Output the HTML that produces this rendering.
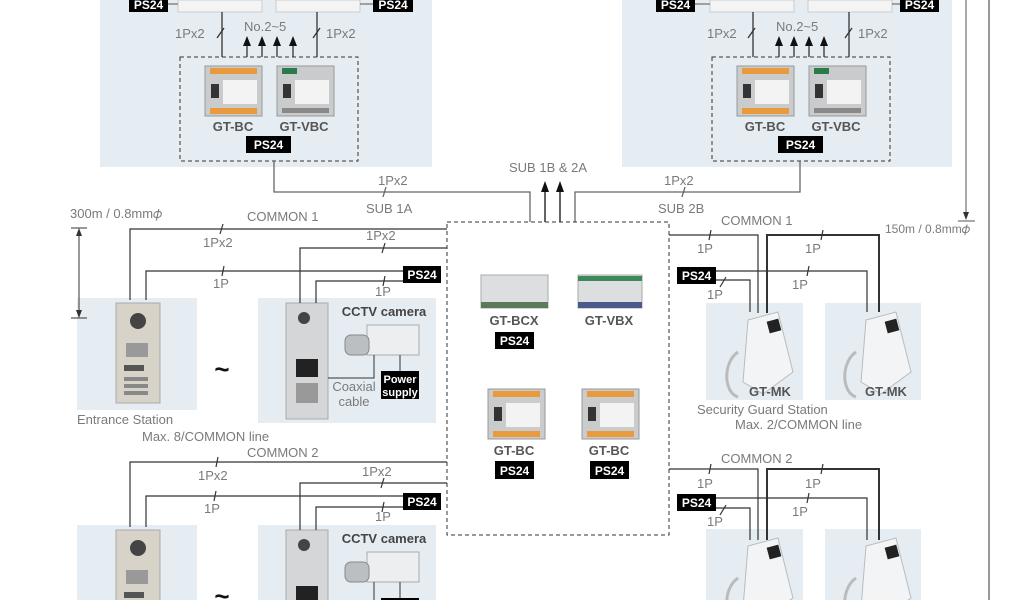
<!DOCTYPE html>
<html><head><meta charset="utf-8"><style>
html,body{margin:0;padding:0;background:#fff;width:1024px;height:600px;overflow:hidden;}
svg{display:block;}
text{font-family:"Liberation Sans",sans-serif;}
.l{font-size:13px;fill:#7a7a7a;}
.m{font-size:13px;font-weight:bold;fill:#555;}
.ps{font-size:12px;font-weight:bold;fill:#fff;}
</style></head><body>
<svg width="1024" height="600" viewBox="0 0 1024 600" xmlns="http://www.w3.org/2000/svg">
<defs>
<g id="bc">
 <rect x="0" y="0" width="57" height="50" fill="#c9cbcc" stroke="#999"/>
 <rect x="5" y="2" width="47" height="6" fill="#e99a3c"/>
 <rect x="5" y="42" width="47" height="6" fill="#e99a3c"/>
 <rect x="18" y="14" width="34" height="24" fill="#f3f3f3"/>
 <rect x="6" y="18" width="8" height="14" fill="#333"/>
</g>
<g id="vbc">
 <rect x="0" y="0" width="57" height="50" fill="#c9cbcc" stroke="#999"/>
 <rect x="5" y="2" width="15" height="6" fill="#2a7a4a"/>
 <rect x="18" y="14" width="34" height="24" fill="#f3f3f3"/>
 <rect x="6" y="18" width="8" height="14" fill="#333"/>
 <rect x="5" y="42" width="47" height="5" fill="#888"/>
</g>
<g id="phone">
 <path d="M30,8 L60,0 L75,60 L45,82 L25,70 Z" fill="#f2f4f5" stroke="#bbb"/>
 <rect x="50" y="8" width="12" height="12" fill="#222" transform="rotate(-15 56 14)"/>
 <path d="M20,40 C5,50 5,80 20,85" fill="none" stroke="#bbb" stroke-width="3"/>
</g>
<g id="ent">
 <rect x="0" y="0" width="44" height="100" fill="#d8d3c8" stroke="#aaa"/>
 <circle cx="22" cy="18" r="8" fill="#444"/>
 <rect x="10" y="40" width="22" height="14" fill="#999"/>
 <rect x="8" y="62" width="20" height="6" fill="#555"/>
 <rect x="8" y="74" width="24" height="4" fill="#888"/>
 <rect x="8" y="81" width="24" height="4" fill="#888"/>
 <rect x="8" y="88" width="24" height="4" fill="#888"/>
</g>
<g id="ent2">
 <rect x="0" y="0" width="42" height="116" fill="#d4d6d8" stroke="#aaa"/>
 <circle cx="18" cy="15" r="6" fill="#444"/>
 <rect x="10" y="56" width="22" height="18" fill="#222"/>
 <rect x="10" y="80" width="22" height="20" fill="#999"/>
</g>
<g id="cam">
 <rect x="22" y="0" width="52" height="30" fill="#eceeef" stroke="#aaa"/>
 <rect x="0" y="10" width="24" height="20" rx="6" fill="#bcbfc2" stroke="#888"/>
</g>
</defs>

<rect x="100" y="0" width="332" height="167" fill="#e6edf2"/>
<rect x="622" y="0" width="330" height="167" fill="#e6edf2"/>

<!-- top left -->
<rect x="178" y="0" width="84" height="12" fill="#f4f4f4" stroke="#ccc"/>
<rect x="276" y="0" width="84" height="12" fill="#f4f4f4" stroke="#ccc"/>
<rect x="129" y="-4" width="39" height="16" fill="#000"/><text class="ps" x="148.5" y="9" text-anchor="middle">PS24</text>
<rect x="373" y="-4" width="40" height="16" fill="#000"/><text class="ps" x="393" y="9" text-anchor="middle">PS24</text>
<line x1="168" y1="4" x2="178" y2="4" stroke="#555"/>
<line x1="360" y1="4" x2="373" y2="4" stroke="#555"/>
<g stroke="#333" stroke-width="1.3">
 <line x1="222" y1="12" x2="222" y2="57"/><line x1="317" y1="12" x2="317" y2="57"/>
 <line x1="217" y1="38" x2="224" y2="28"/><line x1="313" y1="38" x2="320" y2="28"/>
 <line x1="247" y1="57" x2="247" y2="44"/><line x1="262" y1="57" x2="262" y2="44"/>
 <line x1="277" y1="57" x2="277" y2="44"/><line x1="293" y1="57" x2="293" y2="44"/>
</g>
<g fill="#111">
 <polygon points="243,46 247,36 251,46"/><polygon points="258,46 262,36 266,46"/>
 <polygon points="273,46 277,36 281,46"/><polygon points="289,46 293,36 297,46"/>
</g>
<text class="l" x="175" y="38">1Px2</text><text class="l" x="326" y="38">1Px2</text>
<text class="l" x="244" y="31">No.2~5</text>
<rect x="180" y="57" width="178" height="104" fill="none" stroke="#333" stroke-dasharray="4,3"/>
<use href="#bc" x="205" y="66"/><use href="#vbc" x="277" y="66"/>
<text class="m" x="233" y="131" text-anchor="middle">GT-BC</text>
<text class="m" x="304" y="131" text-anchor="middle">GT-VBC</text>
<rect x="246" y="136" width="45" height="17" fill="#000"/><text class="ps" x="268.5" y="149" text-anchor="middle">PS24</text>

<!-- top right -->
<rect x="710" y="0" width="84" height="12" fill="#f4f4f4" stroke="#ccc"/>
<rect x="808" y="0" width="84" height="12" fill="#f4f4f4" stroke="#ccc"/>
<rect x="656" y="-4" width="39" height="16" fill="#000"/><text class="ps" x="675.5" y="9" text-anchor="middle">PS24</text>
<rect x="900" y="-4" width="39" height="16" fill="#000"/><text class="ps" x="919.5" y="9" text-anchor="middle">PS24</text>
<line x1="695" y1="4" x2="710" y2="4" stroke="#555"/>
<line x1="892" y1="4" x2="900" y2="4" stroke="#555"/>
<g stroke="#333" stroke-width="1.3">
 <line x1="753" y1="12" x2="753" y2="57"/><line x1="849" y1="12" x2="849" y2="57"/>
 <line x1="748" y1="38" x2="755" y2="28"/><line x1="845" y1="38" x2="852" y2="28"/>
 <line x1="779" y1="57" x2="779" y2="44"/><line x1="794" y1="57" x2="794" y2="44"/>
 <line x1="809" y1="57" x2="809" y2="44"/><line x1="824" y1="57" x2="824" y2="44"/>
</g>
<g fill="#111">
 <polygon points="775,46 779,36 783,46"/><polygon points="790,46 794,36 798,46"/>
 <polygon points="805,46 809,36 813,46"/><polygon points="820,46 824,36 828,46"/>
</g>
<text class="l" x="707" y="38">1Px2</text><text class="l" x="858" y="38">1Px2</text>
<text class="l" x="776" y="31">No.2~5</text>
<rect x="712" y="57" width="178" height="104" fill="none" stroke="#333" stroke-dasharray="4,3"/>
<use href="#bc" x="737" y="66"/><use href="#vbc" x="809" y="66"/>
<text class="m" x="765" y="131" text-anchor="middle">GT-BC</text>
<text class="m" x="836" y="131" text-anchor="middle">GT-VBC</text>
<rect x="778" y="136" width="45" height="17" fill="#000"/><text class="ps" x="800.5" y="149" text-anchor="middle">PS24</text>

<!-- SUB lines -->
<g stroke="#666" stroke-width="1.3" fill="none">
 <polyline points="274,161 274,192 530,192 530,222"/>
 <polyline points="800,161 800,192 575,192 575,222"/>
 <line x1="383" y1="197" x2="386" y2="187"/>
 <line x1="682" y1="197" x2="685" y2="187"/>
</g>
<g stroke="#111" stroke-width="1.3">
 <line x1="545" y1="222" x2="545" y2="190"/>
 <line x1="560" y1="222" x2="560" y2="190"/>
</g>
<g fill="#111"><polygon points="541,192 545,181 549,192"/><polygon points="556,192 560,181 564,192"/></g>
<text class="l" x="378" y="185">1Px2</text><text class="l" x="366" y="213">SUB 1A</text>
<text class="l" x="509" y="172">SUB 1B &amp; 2A</text>
<text class="l" x="664" y="185">1Px2</text><text class="l" x="658" y="213">SUB 2B</text>

<!-- right distance lines -->
<line x1="989" y1="0" x2="989" y2="600" stroke="#777" stroke-width="1.5"/>
<line x1="966" y1="0" x2="966" y2="214" stroke="#555"/>
<polygon points="963,212 966,220 969,212" fill="#333"/>
<line x1="958" y1="221" x2="975" y2="221" stroke="#555"/>
<text class="l" x="885" y="233" style="font-size:12px">150m / 0.8mm𝜙</text>

<!-- center -->
<rect x="447" y="222" width="222" height="313" fill="none" stroke="#333" stroke-dasharray="4,3"/>
<rect x="481" y="275" width="67" height="33" fill="#dcdedf" stroke="#aaa"/>
<rect x="481" y="302" width="67" height="6" fill="#5a7a5a"/>
<rect x="578" y="275" width="64" height="33" fill="#dcdedf" stroke="#aaa"/>
<rect x="578" y="276" width="64" height="5" fill="#3a8a5a"/>
<rect x="578" y="302" width="64" height="6" fill="#4a5a8a"/>
<text class="m" x="514" y="325" text-anchor="middle">GT-BCX</text>
<text class="m" x="609" y="325" text-anchor="middle">GT-VBX</text>
<rect x="495" y="332" width="39" height="17" fill="#000"/><text class="ps" x="514.5" y="345" text-anchor="middle">PS24</text>
<use href="#bc" x="488" y="389"/><use href="#bc" x="582" y="389"/>
<text class="m" x="514" y="455" text-anchor="middle">GT-BC</text>
<text class="m" x="609" y="455" text-anchor="middle">GT-BC</text>
<rect x="495" y="461" width="39" height="18" fill="#000"/><text class="ps" x="514.5" y="475" text-anchor="middle">PS24</text>
<rect x="590" y="461" width="39" height="18" fill="#000"/><text class="ps" x="609.5" y="475" text-anchor="middle">PS24</text>

<!-- left groups -->
<g id="leftgrp">
<rect x="77" y="298" width="120" height="112" fill="#e6edf2"/>
<rect x="258" y="298" width="178" height="125" fill="#e6edf2"/>
<use href="#ent" x="116" y="303"/>
<use href="#ent2" x="286" y="303"/>
<use href="#cam" x="345" y="325"/>
<text x="222" y="378" style="font-size:26px;font-weight:bold;fill:#111" text-anchor="middle">~</text>
<text x="384" y="316" class="m" style="fill:#444" text-anchor="middle">CCTV camera</text>
<polyline points="328,378 374,378 374,355" fill="none" stroke="#333"/>
<line x1="400" y1="355" x2="400" y2="371" stroke="#333"/>
<rect x="381" y="371" width="38" height="28" fill="#000"/>
<text class="ps" x="400" y="383" text-anchor="middle" style="font-size:11px">Power</text>
<text class="ps" x="400" y="396" text-anchor="middle" style="font-size:11px">supply</text>
<text class="l" x="354" y="391" text-anchor="middle">Coaxial</text>
<text class="l" x="354" y="406" text-anchor="middle">cable</text>
</g>

<!-- left distance (drawn over panel) -->
<line x1="79" y1="232" x2="79" y2="314" stroke="#333"/>
<polygon points="76,236 79,228 82,236" fill="#333"/>
<polygon points="76,310 79,318 82,310" fill="#333"/>
<line x1="71" y1="228" x2="87" y2="228" stroke="#333"/>
<line x1="71" y1="318" x2="87" y2="318" stroke="#333"/>
<text class="l" x="70" y="218">300m / 0.8mm𝜙</text>

<g stroke="#333" stroke-width="1.2" fill="none">
 <polyline points="447,229 130,229 130,300"/>
 <polyline points="447,248 300,248 300,303"/>
 <polyline points="403,271 146,271 146,300"/>
 <polyline points="403,281 316,281 316,303"/>
 <line x1="220" y1="234" x2="223" y2="224"/>
 <line x1="382" y1="253" x2="385" y2="243"/>
 <line x1="222" y1="276" x2="224" y2="266"/>
 <line x1="383" y1="286" x2="385" y2="276"/>
</g>
<rect x="403" y="266" width="38" height="17" fill="#000"/><text class="ps" x="422" y="279" text-anchor="middle">PS24</text>
<text class="l" x="247" y="221">COMMON 1</text>
<text class="l" x="203" y="247">1Px2</text><text class="l" x="366" y="240">1Px2</text>
<text class="l" x="213" y="288">1P</text><text class="l" x="375" y="296">1P</text>
<text class="l" x="77" y="424">Entrance Station</text>
<text class="l" x="142" y="441">Max. 8/COMMON line</text>
<text class="l" x="247" y="457">COMMON 2</text>

<use href="#leftgrp" x="0" y="227"/>
<g stroke="#333" stroke-width="1.2" fill="none">
 <polyline points="447,462 130,462 130,527"/>
 <polyline points="447,483 300,483 300,530"/>
 <polyline points="403,496 146,496 146,527"/>
 <polyline points="403,507 316,507 316,530"/>
 <line x1="216" y1="467" x2="218" y2="457"/>
 <line x1="381" y1="488" x2="384" y2="478"/>
 <line x1="214" y1="501" x2="216" y2="491"/>
 <line x1="382" y1="512" x2="384" y2="502"/>
</g>
<rect x="403" y="493" width="38" height="17" fill="#000"/><text class="ps" x="422" y="506" text-anchor="middle">PS24</text>
<text class="l" x="198" y="480">1Px2</text><text class="l" x="362" y="476">1Px2</text>
<text class="l" x="204" y="513">1P</text><text class="l" x="375" y="521">1P</text>

<!-- right groups -->
<g id="rgrp">
<rect x="706" y="303" width="97" height="97" fill="#e6edf2"/>
<rect x="825" y="303" width="96" height="97" fill="#e6edf2"/>
<use href="#phone" x="718" y="312"/>
<use href="#phone" x="836" y="312"/>
<text class="m" x="770" y="396" text-anchor="middle">GT-MK</text>
<text class="m" x="886" y="396" text-anchor="middle">GT-MK</text>
</g>
<g stroke="#333" stroke-width="1.2" fill="none">
 <polyline points="669,235 758,235 758,313"/>
 <polyline points="767,313 767,235 879,235 879,312" stroke-width="2"/>
 <polyline points="716,271 867,271 867,312"/>
 <polyline points="716,280 750,280 750,312"/>
 <line x1="709" y1="240" x2="711" y2="230"/>
 <line x1="821" y1="240" x2="823" y2="230"/>
 <line x1="807" y1="276" x2="809" y2="266"/>
 <line x1="720" y1="287" x2="726" y2="277"/>
</g>
<rect x="677" y="267" width="39" height="17" fill="#000"/><text class="ps" x="696.5" y="280" text-anchor="middle">PS24</text>
<text class="l" x="721" y="225">COMMON 1</text>
<text class="l" x="697" y="253">1P</text><text class="l" x="805" y="253">1P</text>
<text class="l" x="792" y="289">1P</text><text class="l" x="707" y="299">1P</text>
<text class="l" x="697" y="414">Security Guard Station</text>
<text class="l" x="735" y="429">Max. 2/COMMON line</text>
<text class="l" x="721" y="463">COMMON 2</text>

<use href="#rgrp" x="0" y="226"/>
<g stroke="#333" stroke-width="1.2" fill="none">
 <polyline points="669,469 758,469 758,540"/>
 <polyline points="767,540 767,469 879,469 879,540" stroke-width="2"/>
 <polyline points="716,498 867,498 867,540"/>
 <polyline points="716,508 750,508 750,540"/>
 <line x1="709" y1="474" x2="711" y2="464"/>
 <line x1="821" y1="474" x2="823" y2="464"/>
 <line x1="807" y1="503" x2="809" y2="493"/>
 <line x1="720" y1="515" x2="726" y2="505"/>
</g>
<rect x="677" y="494" width="39" height="17" fill="#000"/><text class="ps" x="696.5" y="507" text-anchor="middle">PS24</text>
<text class="l" x="697" y="488">1P</text><text class="l" x="805" y="488">1P</text>
<text class="l" x="792" y="516">1P</text><text class="l" x="707" y="526">1P</text>
</svg>
</body></html>
